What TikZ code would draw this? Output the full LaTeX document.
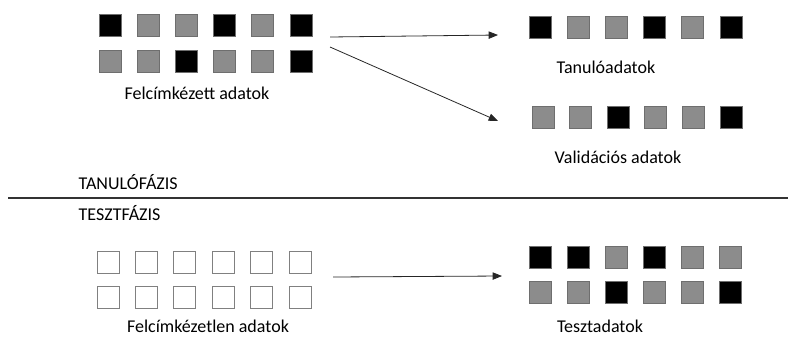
\documentclass[tikz,border=0pt]{standalone}
\usepackage{fontspec}
\setmainfont{Carlito}
\usetikzlibrary{arrows.meta}
\definecolor{boxgray}{HTML}{8C8C8C}
\definecolor{edgegray}{HTML}{6E6E6E}
\begin{document}
\begin{tikzpicture}[x=0.75pt, y=-0.75pt,
    sq/.style={draw=edgegray, line width=0.6pt, minimum size=16.5pt, inner sep=0pt},
    blk/.style={sq, fill=black},
    gry/.style={sq, fill=boxgray},
    wht/.style={sq, draw=gray, fill=white},
    lbl/.style={font=\fontsize{13.5}{15}\selectfont},
    arr/.style={-{Triangle[length=7pt, width=5.5pt]}, line width=0.6pt, draw=black!85}]
                \useasboundingbox (0,0) rectangle (788,336);

                % Labelled data
                \foreach \c [count=\i from 0] in {blk,gry,gry,blk,gry,blk}
                    \node[\c] (la-\i) at (110+38.2*\i, 25.5) {};
                \foreach \c [count=\i from 0] in {gry,gry,blk,gry,gry,blk}
                    \node[\c] (lb-\i) at (110+38.2*\i, 61.5) {};
                \node[lbl] (labelled) at (197,93) {Felcímkézett adatok};

                % Training data
                \foreach \c [count=\i from 0] in {blk,gry,gry,blk,gry,blk}
                    \node[\c] (tr-\i) at (540+38.2*\i, 27.5) {};
                \node[lbl] (train) at (606,67) {Tanulóadatok};

                % Validation data
                \foreach \c [count=\i from 0] in {gry,gry,blk,gry,gry,blk}
                    \node[\c] (va-\i) at (543+37.6*\i, 117.5) {};
                \node[lbl] (valid) at (618,157) {Validációs adatok};

                % Phase separator
                \node[lbl, anchor=west] (phase1) at (74,182) {TANULÓFÁZIS};
                \coordinate (sepL) at (8,198);
                \coordinate (sepR) at (788,198);
                \draw[line width=0.9pt, black!80] (sepL) -- (sepR);
                \node[lbl, anchor=west] (phase2) at (74,213) {TESZTFÁZIS};

                % Unlabelled data
                \foreach \i in {0,...,5} {
                    \node[wht] (ua-\i) at (108+38.4*\i, 262.5) {};
                    \node[wht] (ub-\i) at (108+38.4*\i, 297) {};
                }
                \node[lbl] (unlabelled) at (208,326) {Felcímkézetlen adatok};

                % Test data
                \foreach \c [count=\i from 0] in {blk,blk,gry,blk,gry,gry}
                    \node[\c] (ta-\i) at (540+38*\i, 257.5) {};
                \foreach \c [count=\i from 0] in {gry,gry,blk,gry,gry,blk}
                    \node[\c] (tb-\i) at (540+38*\i, 292.5) {};
                \node[lbl] (test) at (600,326) {Tesztadatok};

                % Arrows
                \coordinate (s1) at (330,37);
                \coordinate (e1) at (498,35);
                \coordinate (s2) at (330,47);
                \coordinate (e2) at (498,121);
                \coordinate (s3) at (333,277);
                \coordinate (e3) at (502,276);
                \draw[arr] (s1) -- (e1);
                \draw[arr] (s2) -- (e2);
                \draw[arr] (s3) -- (e3);
            \end{tikzpicture}
\end{document}
